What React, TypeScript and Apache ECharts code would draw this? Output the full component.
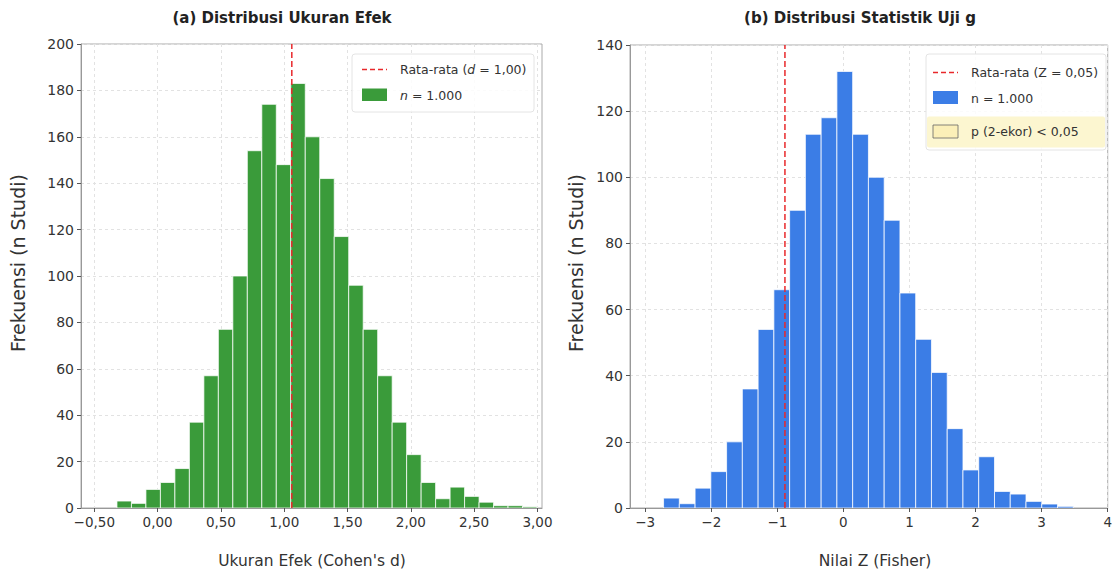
import React, { useEffect, useRef } from "react";
import * as echarts from "echarts";

// ---- data ----
const leftBinStart = -0.321;
const leftBinWidth = 0.1144;
const leftCounts = [3, 2, 8, 11, 17, 37, 57, 77, 100, 154, 174, 148, 183, 160, 142, 117, 96, 77, 57, 37, 23, 11, 4, 9, 5, 2.5, 1, 1, 0.5];
const leftMean = 1.06;
const leftXTicks = [-0.5, 0, 0.5, 1, 1.5, 2, 2.5, 3];

const rightBinStart = -2.722;
const rightBinWidth = 0.2385;
const rightCounts = [3, 1.3, 6, 11, 20, 36, 54, 66, 90, 113, 118, 132, 113, 100, 87, 65, 51, 41, 24, 11.5, 15.5, 5, 4.2, 2, 1.2, 0.5];
const rightMean = -0.885;
const rightXTicks = [-3, -2, -1, 0, 1, 2, 3, 4];

const FONT = "DejaVu Sans";

function fmtComma(v: number) {
  const s = Math.abs(v).toFixed(2).replace(".", ",");
  return (v < 0 ? "\u2212" : "") + s;
}
function fmtInt(v: number) {
  return (v < 0 ? "\u2212" : "") + Math.abs(Math.round(v)).toString();
}

function histData(start: number, width: number, counts: number[]) {
  return counts.map((c, i) => [start + i * width, start + (i + 1) * width, c]);
}

function makeRender(color: string) {
  return (params: any, api: any) => {
    const x0 = api.value(0);
    const x1 = api.value(1);
    const y = api.value(2);
    const p0 = api.coord([x0, y]);
    const p1 = api.coord([x1, 0]);
    return {
      type: "rect",
      shape: { x: p0[0], y: p0[1], width: p1[0] - p0[0], height: p1[1] - p0[1] },
      style: { fill: color, stroke: "rgba(255,255,255,0.75)", lineWidth: 1 },
    };
  };
}

function xAxisCfg(gridIndex: number, min: number, max: number, ticks: number[], fmt: (v: number) => string) {
  return {
    gridIndex,
    type: "value",
    min,
    max,
    axisLine: { show: true, onZero: false, lineStyle: { color: "#999", width: 1 } },
    axisTick: { show: true, customValues: ticks, length: 4, lineStyle: { color: "#555" } },
    axisLabel: { customValues: ticks, formatter: fmt, color: "#333", fontSize: 13.5, fontFamily: FONT, margin: 7 },
    splitLine: { show: true, lineStyle: { type: [3, 3], color: "#e2e2e2" } },
  };
}

function yAxisCfg(gridIndex: number, max: number) {
  return {
    gridIndex,
    type: "value",
    min: 0,
    max,
    interval: 20,
    axisLine: { show: true, onZero: false, lineStyle: { color: "#999", width: 1 } },
    axisTick: { show: true, length: 4, lineStyle: { color: "#555" } },
    axisLabel: { color: "#333", fontSize: 14, fontFamily: FONT, margin: 7 },
    splitLine: { show: true, lineStyle: { type: [3, 3], color: "#e2e2e2" } },
  };
}

export default function App() {
  const ref = useRef<HTMLDivElement>(null);
  useEffect(() => {
    if (!ref.current) return;
    const chart = echarts.init(ref.current, undefined, { renderer: "svg" });
    const red = "#e8282b";
    const green = "#3a9b3a";
    const blue = "#3b7de6";
    const option: any = {
      animation: false,
      backgroundColor: "#ffffff",
      grid: [
        { left: 81, top: 44, width: 461, height: 464, show: true, borderColor: "#aaa", borderWidth: 1, backgroundColor: "transparent" },
        { left: 630, top: 45, width: 483, height: 463, show: true, borderColor: "#aaa", borderWidth: 1, backgroundColor: "transparent" },
      ],
      xAxis: [
        xAxisCfg(0, -0.605, 3.036, leftXTicks, fmtComma),
        xAxisCfg(1, -3.23, 4.0, rightXTicks, fmtInt),
      ],
      yAxis: [yAxisCfg(0, 200), yAxisCfg(1, 140)],
      series: [
        {
          type: "custom",
          xAxisIndex: 0,
          yAxisIndex: 0,
          renderItem: makeRender(green),
          encode: { x: [0, 1], y: 2 },
          data: histData(leftBinStart, leftBinWidth, leftCounts),
          clip: true,
          z: 2,
        },
        {
          type: "line",
          xAxisIndex: 0,
          yAxisIndex: 0,
          data: [[leftMean, 0], [leftMean, 200]],
          symbol: "none",
          lineStyle: { color: red, width: 1.5, type: [6, 3] },
          z: 5,
        },
        {
          type: "custom",
          xAxisIndex: 1,
          yAxisIndex: 1,
          renderItem: makeRender(blue),
          encode: { x: [0, 1], y: 2 },
          data: histData(rightBinStart, rightBinWidth, rightCounts),
          clip: true,
          z: 2,
        },
        {
          type: "line",
          xAxisIndex: 1,
          yAxisIndex: 1,
          data: [[rightMean, 0], [rightMean, 140]],
          symbol: "none",
          lineStyle: { color: red, width: 1.5, type: [6, 3] },
          z: 5,
        },
      ],
      graphic: [
        // titles
        { type: "text", x: 282, y: 18, style: { text: "(a) Distribusi Ukuran Efek", font: `bold 15px '${FONT}'`, fill: "#222", textAlign: "center", textVerticalAlign: "middle" } },
        { type: "text", x: 860, y: 18, style: { text: "(b) Distribusi Statistik Uji g", font: `bold 15px '${FONT}'`, fill: "#222", textAlign: "center", textVerticalAlign: "middle" } },
        // axis names
        { type: "text", x: 312, y: 561, style: { text: "Ukuran Efek (Cohen's d)", font: `15.5px '${FONT}'`, fill: "#333", textAlign: "center", textVerticalAlign: "middle" } },
        { type: "text", x: 875, y: 561, style: { text: "Nilai Z (Fisher)", font: `15.5px '${FONT}'`, fill: "#333", textAlign: "center", textVerticalAlign: "middle" } },
        { type: "text", x: 18, y: 263, rotation: Math.PI / 2, style: { text: "Frekuensi (n Studi)", font: `19px '${FONT}'`, fill: "#333", textAlign: "center", textVerticalAlign: "middle" } },
        { type: "text", x: 576, y: 263, rotation: Math.PI / 2, style: { text: "Frekuensi (n Studi)", font: `19px '${FONT}'`, fill: "#333", textAlign: "center", textVerticalAlign: "middle" } },
        // left legend
        { type: "rect", z: 10, shape: { x: 352, y: 54, width: 182, height: 58, r: 3 }, style: { fill: "rgba(255,255,255,0.85)", stroke: "#e4e4e4", lineWidth: 1 } },
        { type: "line", z: 11, shape: { x1: 362, y1: 69.5, x2: 387, y2: 69.5 }, style: { stroke: red, lineWidth: 1.5, lineDash: [5, 3] } },
        {
          type: "text", z: 11, x: 400, y: 69.5,
          style: {
            text: "{a|Rata-rata (}{i|d}{a| = 1,00)}",
            textVerticalAlign: "middle",
            rich: {
              a: { fontFamily: FONT, fontSize: 12.5, fill: "#333" },
              i: { fontFamily: FONT, fontSize: 12.5, fontStyle: "italic", fill: "#333" },
            },
          },
        },
        { type: "rect", z: 11, shape: { x: 362, y: 88.5, width: 25, height: 12.5 }, style: { fill: green } },
        {
          type: "text", z: 11, x: 400, y: 95,
          style: {
            text: "{i|n}{a| = 1.000}",
            textVerticalAlign: "middle",
            rich: {
              a: { fontFamily: FONT, fontSize: 12.5, fill: "#333" },
              i: { fontFamily: FONT, fontSize: 12.5, fontStyle: "italic", fill: "#333" },
            },
          },
        },
        // right legend
        { type: "rect", z: 10, shape: { x: 926, y: 54, width: 180, height: 96, r: 3 }, style: { fill: "rgba(255,255,255,0.85)", stroke: "#e4e4e4", lineWidth: 1 } },
        { type: "line", z: 11, shape: { x1: 933, y1: 72.5, x2: 958, y2: 72.5 }, style: { stroke: red, lineWidth: 1.5, lineDash: [5, 3] } },
        { type: "text", z: 11, x: 971, y: 72.5, style: { text: "Rata-rata (Z = 0,05)", font: `12.5px '${FONT}'`, fill: "#333", textVerticalAlign: "middle" } },
        { type: "rect", z: 11, shape: { x: 933, y: 91, width: 25, height: 13 }, style: { fill: blue } },
        { type: "text", z: 11, x: 971, y: 98, style: { text: "n = 1.000", font: `12.5px '${FONT}'`, fill: "#333", textVerticalAlign: "middle" } },
        { type: "rect", z: 11, shape: { x: 927, y: 116.5, width: 178, height: 31, r: 2 }, style: { fill: "#fcf6d0" } },
        { type: "rect", z: 12, shape: { x: 933, y: 125, width: 25, height: 13 }, style: { fill: "#fbefb8", stroke: "#666", lineWidth: 0.8 } },
        { type: "text", z: 12, x: 971, y: 131.5, style: { text: "p (2-ekor) < 0,05", font: `12.5px '${FONT}'`, fill: "#333", textVerticalAlign: "middle" } },
      ],
    };
    chart.setOption(option);
    return () => chart.dispose();
  }, []);
  return <div ref={ref} style={{ position: "fixed", left: 0, top: 0, width: 1115, height: 574 }} />;
}
